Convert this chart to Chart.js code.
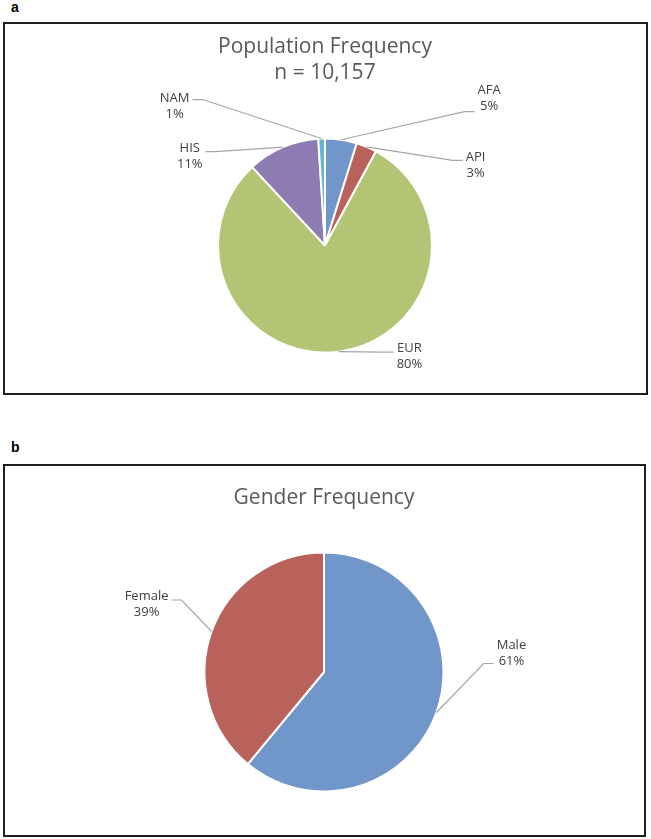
<!DOCTYPE html>
<html>
<head>
<meta charset="utf-8">
<script src="https://cdn.jsdelivr.net/npm/chart.js@4.4.1/dist/chart.umd.min.js"></script>
<style>
  body { margin: 0; background: #fff; width: 651px; height: 839px; position: relative; overflow: hidden; }
  .tag { position: absolute; font: bold 14px "Liberation Sans", Arial, sans-serif; color: #000; }
  .box { position: absolute; box-sizing: border-box; border: 2px solid #1e1e1e; }
  canvas { position: absolute; left: 0; }
</style>
</head>
<body>
<div class="tag" style="left:11px;top:-1px">a</div>
<div class="box" style="left:3px;top:22px;width:645px;height:373px"></div>
<canvas id="popChart" width="651" height="420" style="top:0"></canvas>

<div class="tag" style="left:11px;top:439px">b</div>
<div class="box" style="left:3px;top:464px;width:643px;height:373px"></div>
<canvas id="genderChart" width="651" height="419" style="top:420px"></canvas>

<script>
// population (n = 10,157)
const popLabels = ['AFA', 'API', 'EUR', 'HIS', 'NAM'];
const popCounts = [487, 315, 8146, 1107, 102];
const popColors = ['#7196c9', '#b9625c', '#b3c574', '#8e7bb2', '#62b5d6'];

// gender
const genderLabels = ['Male', 'Female'];
const genderCounts = [6196, 3961];
const genderColors = ['#7196c9', '#b9625c'];

// draws the title lines and the leader-line data labels
const pieLabels = {
  id: 'pieLabels',
  afterDraw(chart, args, opts) {
    const ctx = chart.ctx;
    const meta = chart.getDatasetMeta(0);
    const data = chart.data.datasets[0].data;
    const labels = chart.data.labels;
    const total = data.reduce((a, b) => a + b, 0);
    const cxPie = meta.data[0].x;

    ctx.save();
    ctx.textAlign = 'center';
    ctx.textBaseline = 'middle';
    ctx.fillStyle = '#595959';
    ctx.font = '21px "Open Sans", sans-serif';
    opts.title.forEach((t, i) => ctx.fillText(t, cxPie, opts.titleY[i]));

    ctx.font = '13px "Open Sans", sans-serif';
    meta.data.forEach((arc, i) => {
      const mid = (arc.startAngle + arc.endAngle) / 2;
      const ex = arc.x + Math.cos(mid) * arc.outerRadius;
      const ey = arc.y + Math.sin(mid) * arc.outerRadius;
      const off = opts.offsets[i];
      const cx = ex + off[0];
      const cy = ey + off[1];
      const pct = Math.round(data[i] / total * 100) + '%';
      const w = Math.max(ctx.measureText(labels[i]).width, ctx.measureText(pct).width);
      const side = off[0] > 0 ? -1 : 1;
      const ax = cx + side * (w / 2 + 3);
      const ay = cy + off[2];

      ctx.strokeStyle = '#a6a6a6';
      ctx.lineWidth = 1.2;
      ctx.beginPath();
      ctx.moveTo(ex, ey);
      ctx.lineTo(ax + side * 10, ay);
      ctx.lineTo(ax, ay);
      ctx.stroke();

      ctx.fillStyle = '#404040';
      ctx.fillText(labels[i], cx, cy - 8);
      ctx.fillText(pct, cx, cy + 8);
    });
    ctx.restore();
  }
};

function createPie(canvas, labels, data, colors, radius, padding, labelOpts) {
  return new Chart(canvas, {
    type: 'pie',
    data: {
      labels: labels,
      datasets: [{
        data: data,
        backgroundColor: colors,
        borderColor: '#ffffff',
        borderWidth: 2,
        radius: radius
      }]
    },
    options: {
      responsive: false,
      animation: false,
      events: [],
      layout: { padding: padding },
      plugins: {
        legend: { display: false },
        tooltip: { enabled: false },
        pieLabels: labelOpts
      }
    },
    plugins: [pieLabels]
  });
}

createPie(document.getElementById('popChart'), popLabels, popCounts, popColors, 107,
  { left: 200, right: 201, top: 130, bottom: 59 },
  {
    title: ['Population Frequency', 'n = 10,157'],
    titleY: [47, 73],
    offsets: [[148, -41, 13], [109, 18, -4.5], [71, 5, -4.5], [-93, 9, -4.5], [-147, -32, -7]]
  });

createPie(document.getElementById('genderChart'), genderLabels, genderCounts, genderColors, 119.5,
  { left: 199, right: 202, top: 127, bottom: 42 },
  {
    title: ['Gender Frequency'],
    titleY: [78],
    offsets: [[75, -59, 10], [-65, -27, -4.5]]
  });
</script>
</body>
</html>
